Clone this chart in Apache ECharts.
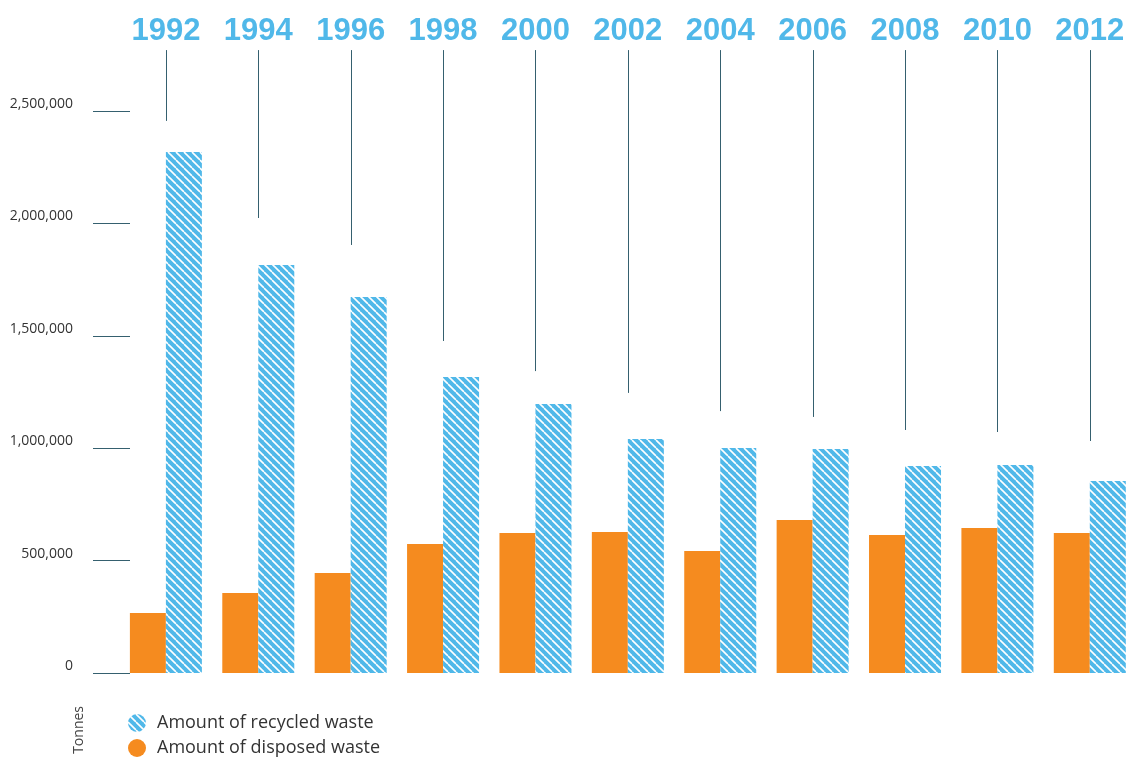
<!DOCTYPE html>
<html>
<head>
<meta charset="utf-8">
<title>Recycled vs disposed waste</title>
<script src="https://cdn.jsdelivr.net/npm/echarts@6/dist/echarts.min.js"></script>
<style>
  html, body { margin: 0; padding: 0; background: #fff; }
  #chart { width: 1136px; height: 758px; }
</style>
</head>
<body>
<div id="chart"></div>
<script>
// data (tonnes)
const years = ['1992', '1994', '1996', '1998', '2000', '2002', '2004', '2006', '2008', '2010', '2012'];
const disposed = [267000, 356000, 445000, 574000, 623000, 627000, 543000, 681000, 614000, 645000, 623000];
const recycled = [2318000, 1815000, 1673000, 1317000, 1197000, 1041000, 1001000, 996000, 921000, 925000, 854000];
// where the thin leader lines under each year stop
const leaderEnds = [2456000, 2024000, 1904000, 1477000, 1343000, 1246000, 1165000, 1139000, 1081000, 1072000, 1032000];
const leaderTop = 2771000;

const BLUE = '#50b8e9';
const ORANGE = '#f58b1f';
const LINE = '#35606f';

// diagonal white stripes on blue
function makeHatch() {
  const s = 8;
  const c = document.createElement('canvas');
  c.width = s;
  c.height = s;
  const ctx = c.getContext('2d');
  ctx.fillStyle = BLUE;
  ctx.fillRect(0, 0, s, s);
  ctx.strokeStyle = '#ffffff';
  ctx.lineWidth = 1.6;
  [-s, 0, s].forEach((x0) => {
    ctx.beginPath();
    ctx.moveTo(x0, 0);
    ctx.lineTo(x0 + s, s);
    ctx.stroke();
  });
  return c;
}

const hatch = { image: makeHatch(), repeat: 'repeat' };

const chart = echarts.init(document.getElementById('chart'));

const option = {
  animation: false,
  grid: {
    left: 119.7,
    right: -2.3,
    top: 111,
    bottom: 85,
  },
  legend: {
    orient: 'vertical',
    left: 128,
    top: 714,
    padding: 0,
    itemWidth: 18,
    itemHeight: 18,
    itemGap: 7,
    icon: 'circle',
    data: ['Amount of recycled waste', 'Amount of disposed waste'],
    textStyle: {
      fontFamily: 'Open Sans',
      fontSize: 18,
      color: '#333',
      padding: [0, 0, 0, 6],
    },
  },
  graphic: [
    {
      type: 'text',
      left: 72,
      top: 706,
      rotation: Math.PI / 2,
      style: {
        text: 'Tonnes',
        font: '14px "Open Sans"',
        fill: '#444',
      },
    },
  ],
  xAxis: {
    type: 'category',
    position: 'top',
    data: years,
    axisLine: { show: false },
    axisTick: { show: false },
    axisLabel: {
      interval: 0,
      hideOverlap: false,
      margin: 80,
      verticalAlign: 'middle',
      color: BLUE,
      fontFamily: 'Liberation Sans',
      fontWeight: 'bold',
      fontSize: 31,
    },
  },
  yAxis: {
    type: 'value',
    min: 0,
    max: 2500000,
    interval: 500000,
    offset: 26.7,
    axisLine: { show: false },
    splitLine: { show: false },
    axisTick: {
      show: true,
      inside: true,
      length: 37,
      lineStyle: { color: LINE, width: 1 },
    },
    axisLabel: {
      margin: 20,
      color: '#333',
      fontFamily: 'Open Sans',
      fontSize: 14,
      verticalAlign: 'bottom',
      formatter: (v) => v.toLocaleString('en-US'),
    },
  },
  series: [
    {
      name: 'Amount of disposed waste',
      type: 'bar',
      data: disposed,
      barWidth: 36,
      barGap: '0%',
      itemStyle: { color: ORANGE },
    },
    {
      name: 'Amount of recycled waste',
      type: 'bar',
      data: recycled,
      barWidth: 36,
      itemStyle: { color: hatch },
    },
    {
      name: 'leaders',
      type: 'custom',
      silent: true,
      clip: false,
      data: leaderEnds.map((v, i) => [i, v]),
      renderItem: (params, api) => {
        const bottom = api.coord([api.value(0), api.value(1)]);
        const top = api.coord([api.value(0), leaderTop]);
        const x = Math.round(bottom[0]) + 0.5;
        return {
          type: 'line',
          shape: { x1: x, y1: top[1], x2: x, y2: bottom[1] },
          style: { stroke: LINE, lineWidth: 1 },
        };
      },
    },
  ],
};

chart.setOption(option);
</script>
</body>
</html>
